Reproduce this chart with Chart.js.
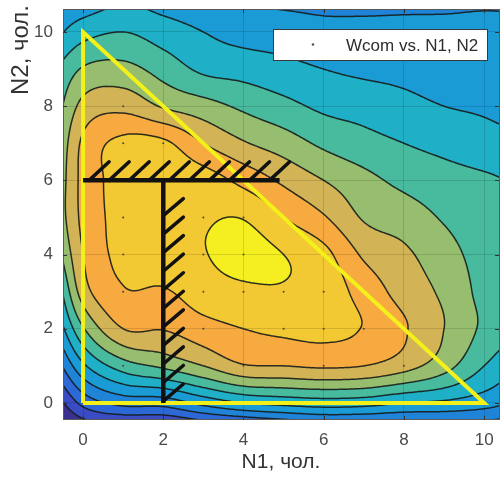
<!DOCTYPE html>
<html>
<head>
<meta charset="utf-8">
<script src="https://cdn.jsdelivr.net/npm/chart.js@4/dist/chart.umd.min.js"></script>
<style>
  html, body { margin: 0; padding: 0; background: #ffffff; }
  #wrap { width: 503px; height: 480px; }
</style>
</head>
<body>
<div id="wrap"><canvas id="chart" width="503" height="480"></canvas></div>
<script>
// Axis ticks
const xTicks = [0, 2, 4, 6, 8, 10];
const yTicks = [0, 2, 4, 6, 8, 10];

// Measurement points (team sizes N1, N2 with N1 + N2 <= 10)
const n1Values = [0, 1, 2, 3, 4, 5, 6, 7, 8, 9, 10];
const n2Values = [0, 1, 2, 3, 4, 5, 6, 7, 8, 9, 10];
const teamLimit = 10;

// Wcom surface sampled on a unit grid, in contour-level units
const gridX = [-1, 0, 1, 2, 3, 4, 5, 6, 7, 8, 9, 10, 11];
const gridY = [11, 10, 9, 8, 7, 6, 5, 4, 3, 2, 1, 0, -1];   // row order below (top to bottom)
const wcomRows = [
  [3.8, 4.2, 4.8, 4.5, 4.2, 3.9, 3.75, 3.7, 3.65, 3.7, 3.7, 3.8, 3.8],
  [4.4, 5.6, 6.0, 5.5, 5.0, 4.6, 4.5, 4.3, 4.3, 4.3, 4.3, 4.3, 4.2],
  [5.5, 7.1, 7.3, 6.6, 5.8, 5.6, 5.3, 5.0, 4.8, 4.7, 4.5, 4.4, 4.2],
  [5.8, 8.3, 8.7, 7.9, 7.4, 6.8, 6.3, 5.8, 5.6, 5.3, 5.0, 4.85, 4.6],
  [6.0, 9.2, 10.25, 10.2, 9.0, 8.1, 7.5, 6.8, 6.35, 6.0, 5.7, 5.4, 5.2],
  [6.3, 9.3, 10.35, 10.7, 10.5, 9.7, 8.8, 8.0, 7.3, 6.75, 6.4, 6.15, 5.9],
  [6.4, 9.25, 10.35, 10.8, 10.9, 10.95, 10.0, 9.1, 7.9, 7.5, 6.9, 6.4, 6.1],
  [5.5, 9.0, 10.3, 10.6, 10.95, 11.35, 11.0, 10.3, 8.85, 8.2, 7.4, 6.6, 6.2],
  [3.9, 8.5, 9.9, 9.9, 10.5, 10.8, 10.9, 10.6, 9.6, 8.6, 7.8, 6.7, 6.2],
  [3.1, 6.9, 9.0, 9.05, 9.6, 10.0, 10.2, 10.25, 9.95, 9.1, 8.0, 6.8, 6.0],
  [1.6, 4.8, 6.5, 7.2, 8.0, 8.9, 9.0, 9.15, 9.0, 8.4, 7.4, 6.0, 5.0],
  [-0.3, 2.3, 3.3, 3.4, 4.3, 5.0, 5.3, 5.5, 5.4, 5.0, 4.8, 4.4, 3.8],
  [-2.0, -0.5, -0.5, -0.5, -0.2, 0.0, 0.5, 1.0, 1.0, 1.2, 1.4, 1.6, 1.6]
];
const contourLevels = [1, 2, 3, 4, 5, 6, 7, 8, 9, 10, 11];
const bandColors = [
  '#3b2f8f', '#3a4cc4', '#2c68d6', '#1f83d8', '#1a9bd6', '#1fafc6',
  '#48ba9e', '#96be6e', '#d2b457', '#f7aa40', '#f3c933', '#f5ef22'
];

// Feasible region: N1 + N2 <= 10
const triangleN1 = [0, 0, 10, 0];
const triangleN2 = [0, 10, 0, 0];
// Constraint boundaries: N2 <= 6 (for N1 up to 4.9) and N1 >= 2 (for N2 up to 6)
const limitN2 = { y: 6, from: 0, to: 4.9 };
const limitN1 = { x: 2, from: 0, to: 6 };
const hatchStep = 0.5;

// ---------- surface interpolation ----------
const zGrid = wcomRows.slice().reverse();           // index [row from y=-1][col from x=-1]
const gx0 = gridX[0], gy0 = gridY[gridY.length - 1];
const nGX = gridX.length, nGY = gridY.length;
function cr(p0, p1, p2, p3, t) {
  return p1 + 0.5 * t * (p2 - p0 + t * (2 * p0 - 5 * p1 + 4 * p2 - p3 + t * (3 * (p1 - p2) + p3 - p0)));
}
const ci = (i, n) => Math.max(0, Math.min(n - 1, i));
function surface(vx, vy) {
  const fx = vx - gx0, fy = vy - gy0;
  let i = Math.max(0, Math.min(nGX - 2, Math.floor(fx)));
  let j = Math.max(0, Math.min(nGY - 2, Math.floor(fy)));
  const tx = fx - i, ty = fy - j;
  const col = [];
  for (let m = -1; m <= 2; m++) {
    const row = zGrid[ci(j + m, nGY)];
    col.push(cr(row[ci(i - 1, nGX)], row[ci(i, nGX)], row[ci(i + 1, nGX)], row[ci(i + 2, nGX)], tx));
  }
  return cr(col[0], col[1], col[2], col[3], ty);
}
function hexToRgb(h) {
  const n = parseInt(h.slice(1), 16);
  return [(n >> 16) & 255, (n >> 8) & 255, n & 255];
}
const bandRgb = bandColors.map(hexToRgb);

// ---------- filled contour + contour lines ----------
const contourPlugin = {
  id: 'contourFill',
  beforeDraw(chart) {
    const { ctx, chartArea: a, scales } = chart;
    const xs = scales.x, ys = scales.y;
    const dpr = chart.currentDevicePixelRatio || 1;
    const L = Math.floor(a.left * dpr), T = Math.floor(a.top * dpr);
    const W = Math.ceil(a.right * dpr) - L, H = Math.ceil(a.bottom * dpr) - T;
    const img = ctx.createImageData(W, H);
    const d = img.data;
    const xv = new Float64Array(W);
    for (let i = 0; i < W; i++) xv[i] = xs.getValueForPixel((L + i + 0.5) / dpr);
    for (let j = 0; j < H; j++) {
      const vy = ys.getValueForPixel((T + j + 0.5) / dpr);
      for (let i = 0; i < W; i++) {
        const z = surface(xv[i], vy);
        let b = 0;
        while (b < contourLevels.length && z >= contourLevels[b]) b++;
        const c = bandRgb[b];
        const k = (j * W + i) * 4;
        d[k] = c[0]; d[k + 1] = c[1]; d[k + 2] = c[2]; d[k + 3] = 255;
      }
    }
    ctx.putImageData(img, L, T);

    // contour lines by marching squares
    const step = 2;
    const nx = Math.ceil(a.width / step) + 1, ny = Math.ceil(a.height / step) + 1;
    const vals = new Float64Array(nx * ny);
    for (let j = 0; j < ny; j++) {
      const vy = ys.getValueForPixel(a.top + j * step);
      for (let i = 0; i < nx; i++) vals[j * nx + i] = surface(xs.getValueForPixel(a.left + i * step), vy);
    }
    ctx.save();
    ctx.beginPath();
    ctx.rect(a.left, a.top, a.width, a.height);
    ctx.clip();
    ctx.strokeStyle = 'rgba(22,28,26,0.9)';
    ctx.lineWidth = 1.5;
    ctx.lineCap = 'round';
    ctx.beginPath();
    for (const lev of contourLevels) {
      for (let j = 0; j < ny - 1; j++) {
        for (let i = 0; i < nx - 1; i++) {
          const v00 = vals[j * nx + i], v10 = vals[j * nx + i + 1];
          const v01 = vals[(j + 1) * nx + i], v11 = vals[(j + 1) * nx + i + 1];
          const px = a.left + i * step, py = a.top + j * step;
          const pts = [];
          if ((v00 < lev) !== (v10 < lev)) pts.push([px + step * (lev - v00) / (v10 - v00), py]);
          if ((v10 < lev) !== (v11 < lev)) pts.push([px + step, py + step * (lev - v10) / (v11 - v10)]);
          if ((v01 < lev) !== (v11 < lev)) pts.push([px + step * (lev - v01) / (v11 - v01), py + step]);
          if ((v00 < lev) !== (v01 < lev)) pts.push([px, py + step * (lev - v00) / (v01 - v00)]);
          if (pts.length === 2) {
            ctx.moveTo(pts[0][0], pts[0][1]); ctx.lineTo(pts[1][0], pts[1][1]);
          } else if (pts.length === 4) {
            const c = (v00 + v10 + v01 + v11) / 4;
            if ((c < lev) === (v00 < lev)) {
              ctx.moveTo(pts[0][0], pts[0][1]); ctx.lineTo(pts[1][0], pts[1][1]);
              ctx.moveTo(pts[2][0], pts[2][1]); ctx.lineTo(pts[3][0], pts[3][1]);
            } else {
              ctx.moveTo(pts[0][0], pts[0][1]); ctx.lineTo(pts[3][0], pts[3][1]);
              ctx.moveTo(pts[1][0], pts[1][1]); ctx.lineTo(pts[2][0], pts[2][1]);
            }
          }
        }
      }
    }
    ctx.stroke();
    ctx.restore();
  },
  afterDraw(chart) {
    const { ctx, chartArea: a, scales } = chart;
    ctx.save();
    // axes box
    ctx.strokeStyle = '#5a5a5a';
    ctx.lineWidth = 1;
    ctx.strokeRect(a.left + 0.5, a.top + 0.5, a.width, a.height - 1);
    // inward tick marks
    ctx.strokeStyle = '#333333';
    ctx.beginPath();
    for (const v of xTicks) {
      const p = Math.round(scales.x.getPixelForValue(v)) + 0.5;
      ctx.moveTo(p, a.bottom); ctx.lineTo(p, a.bottom - 4);
      ctx.moveTo(p, a.top); ctx.lineTo(p, a.top + 4);
    }
    for (const v of yTicks) {
      const p = Math.round(scales.y.getPixelForValue(v)) + 0.5;
      ctx.moveTo(a.left, p); ctx.lineTo(a.left + 4, p);
      ctx.moveTo(a.right, p); ctx.lineTo(a.right - 4, p);
    }
    ctx.stroke();

    // axis titles
    ctx.fillStyle = '#333333';
    ctx.font = '21px "Liberation Sans", Arial, sans-serif';
    ctx.textAlign = 'center';
    ctx.textBaseline = 'alphabetic';
    ctx.fillText('N1, чол.', (a.left + a.right) / 2, 468);
    ctx.save();
    ctx.translate(28, 50);
    ctx.rotate(-Math.PI / 2);
    ctx.font = '24px "Liberation Sans", Arial, sans-serif';
    ctx.fillText('N2, чол.', 0, 0);
    ctx.restore();

    // legend box
    const lx = 273, ly = 29, lw = 214, lh = 31;
    ctx.fillStyle = '#ffffff';
    ctx.fillRect(lx, ly, lw, lh);
    ctx.strokeStyle = '#3a3a3a';
    ctx.strokeRect(lx + 0.5, ly + 0.5, lw, lh);
    ctx.fillStyle = '#555555';
    ctx.beginPath();
    ctx.arc(313, 44.5, 1.3, 0, Math.PI * 2);
    ctx.fill();
    ctx.fillStyle = '#2d2d2d';
    ctx.font = '17px "Liberation Sans", Arial, sans-serif';
    ctx.textAlign = 'left';
    ctx.fillText(chart.data.datasets[0].label, 346, 50.5);
    ctx.restore();
  }
};

// ---------- datasets ----------
const samplePoints = [];
for (const a of n1Values) for (const b of n2Values) if (a + b <= teamLimit) samplePoints.push({ x: a, y: b });

const triangle = triangleN1.map((v, i) => ({ x: v, y: triangleN2[i] }));

const limitLines = [
  { x: limitN2.from, y: limitN2.y }, { x: limitN2.to, y: limitN2.y }, { x: null, y: null },
  { x: limitN1.x, y: limitN1.from }, { x: limitN1.x, y: limitN1.to }, { x: null, y: null }
];
const hatches = [];
for (let s = limitN2.from + 0.15; s + hatchStep <= limitN2.to + 0.3; s += hatchStep) {
  hatches.push({ x: s, y: limitN2.y }, { x: s + hatchStep, y: limitN2.y + hatchStep }, { x: null, y: null });
}
for (let s = limitN1.from + 0.05; s + hatchStep <= limitN1.to; s += hatchStep) {
  hatches.push({ x: limitN1.x, y: s }, { x: limitN1.x + hatchStep, y: s + hatchStep * 0.92 }, { x: null, y: null });
}

const dropLabelPadding = s => { s.paddingTop = 0; s.paddingBottom = 0; s.paddingLeft = 0; s.paddingRight = 0; };

new Chart(document.getElementById('chart'), {
  type: 'scatter',
  data: {
    datasets: [
      { label: 'Wcom vs. N1, N2', data: samplePoints, pointRadius: 1, pointBackgroundColor: '#474747',
        pointBorderWidth: 0, showLine: false, order: 5 },
      { label: 'limits', data: limitLines, showLine: true, spanGaps: false, borderColor: '#111111',
        borderWidth: 4.5, pointRadius: 0, order: 1 },
      { label: 'hatch', data: hatches, showLine: true, spanGaps: false, borderColor: '#111111',
        borderWidth: 3.5, borderCapStyle: 'round', pointRadius: 0, order: 2 },
      { label: 'region', data: triangle, showLine: true, borderColor: '#f3f01a', borderWidth: 4,
        borderJoinStyle: 'miter', pointRadius: 0, order: 3 }
    ]
  },
  options: {
    responsive: false,
    animation: false,
    events: [],
    layout: { padding: { top: 9, right: 0, left: 0, bottom: 0 } },
    plugins: { legend: { display: false }, tooltip: { enabled: false } },
    scales: {
      x: {
        type: 'linear', min: -0.5, max: 10.37,
        afterBuildTicks: s => { s.ticks = xTicks.map(v => ({ value: v })); },
        afterFit: s => { s.height = 60; dropLabelPadding(s); },
        ticks: { color: '#4a4a4a', font: { size: 17, family: '"Liberation Sans", Arial, sans-serif' }, padding: 10, maxRotation: 0 },
        grid: { color: 'rgba(0,0,0,0.13)', drawTicks: false, z: 0 },
        border: { display: false }
      },
      y: {
        type: 'linear', min: -0.46, max: 10.62,
        afterBuildTicks: s => { s.ticks = yTicks.map(v => ({ value: v })); },
        afterFit: s => { s.width = 63; dropLabelPadding(s); },
        ticks: { color: '#4a4a4a', font: { size: 17, family: '"Liberation Sans", Arial, sans-serif' }, padding: 10 },
        grid: { color: 'rgba(0,0,0,0.13)', drawTicks: false, z: 0 },
        border: { display: false }
      }
    }
  },
  plugins: [contourPlugin]
});
</script>
</body>
</html>
